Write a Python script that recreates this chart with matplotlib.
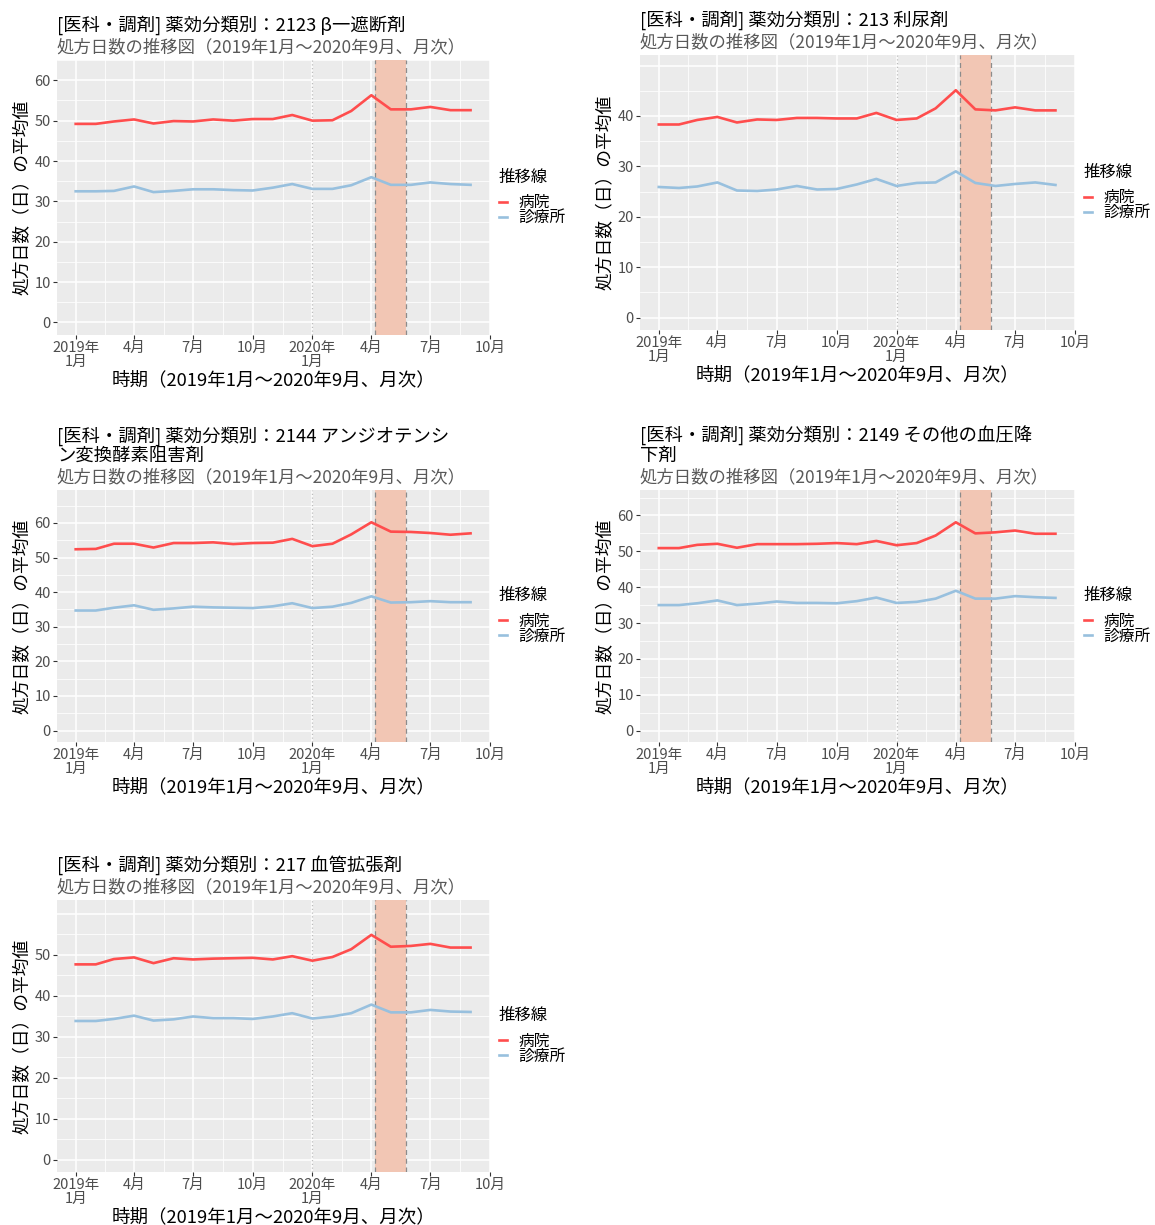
import datetime as dt

import matplotlib
matplotlib.use("Agg")
import matplotlib.pyplot as plt
import matplotlib.dates as mdates

plt.rcParams["font.family"] = ["Noto Sans CJK JP", "DejaVu Sans"]

# ---- data -------------------------------------------------------------
months = [dt.date(2019, m, 1) for m in range(1, 13)] + [dt.date(2020, m, 1) for m in range(1, 10)]

series_names = ["病院", "診療所"]

titles = [
    "[医科・調剤] 薬効分類別：2123 β一遮断剤",
    "[医科・調剤] 薬効分類別：213 利尿剤",
    "[医科・調剤] 薬効分類別：2144 アンジオテンシ\nン変換酵素阻害剤",
    "[医科・調剤] 薬効分類別：2149 その他の血圧降\n下剤",
    "[医科・調剤] 薬効分類別：217 血管拡張剤",
]
subtitle = "処方日数の推移図（2019年1月～2020年9月、月次）"
x_title = "時期（2019年1月～2020年9月、月次）"
y_title = "処方日数（日）の平均値"
legend_title = "推移線"

hospital_2123 = [49.2, 49.2, 49.8, 50.3, 49.3, 49.9, 49.8, 50.3, 50.0, 50.4, 50.4,
                 51.4, 50.0, 50.1, 52.4, 56.3, 52.8, 52.8, 53.4, 52.6, 52.6]
clinic_2123 = [32.5, 32.5, 32.6, 33.7, 32.3, 32.6, 33.0, 33.0, 32.8, 32.7, 33.4,
               34.3, 33.1, 33.1, 34.0, 36.0, 34.1, 34.1, 34.7, 34.3, 34.1]

hospital_213 = [38.3, 38.3, 39.2, 39.8, 38.7, 39.3, 39.2, 39.6, 39.6, 39.5, 39.5,
                40.6, 39.2, 39.5, 41.5, 45.1, 41.3, 41.1, 41.7, 41.1, 41.1]
clinic_213 = [25.9, 25.7, 26.0, 26.8, 25.2, 25.1, 25.4, 26.1, 25.4, 25.5, 26.4,
              27.5, 26.1, 26.7, 26.8, 29.0, 26.7, 26.1, 26.5, 26.8, 26.3]

hospital_2144 = [52.4, 52.5, 54.0, 54.0, 52.9, 54.2, 54.2, 54.4, 53.9, 54.2, 54.3,
                 55.4, 53.3, 54.0, 56.7, 60.2, 57.5, 57.4, 57.1, 56.6, 57.0]
clinic_2144 = [34.7, 34.7, 35.5, 36.2, 34.9, 35.3, 35.8, 35.6, 35.5, 35.4, 35.9,
               36.8, 35.4, 35.8, 36.9, 38.8, 37.0, 37.1, 37.4, 37.1, 37.1]

hospital_2149 = [50.9, 50.9, 51.8, 52.1, 51.0, 52.0, 52.0, 52.0, 52.1, 52.3, 52.0,
                 52.9, 51.7, 52.3, 54.4, 58.1, 55.0, 55.3, 55.8, 54.9, 54.9]
clinic_2149 = [35.0, 35.0, 35.5, 36.3, 35.0, 35.4, 36.0, 35.6, 35.6, 35.5, 36.1,
               37.1, 35.6, 35.9, 36.8, 39.0, 36.8, 36.8, 37.5, 37.2, 37.0]

hospital_217 = [47.6, 47.6, 48.9, 49.3, 47.9, 49.1, 48.8, 49.0, 49.1, 49.2, 48.8,
                49.6, 48.5, 49.4, 51.3, 54.8, 51.9, 52.1, 52.6, 51.7, 51.7]
clinic_217 = [33.8, 33.8, 34.3, 35.1, 33.9, 34.2, 34.9, 34.5, 34.5, 34.3, 34.9,
              35.7, 34.4, 34.9, 35.7, 37.8, 35.9, 35.9, 36.5, 36.1, 36.0]

hospital_series = [hospital_2123, hospital_213, hospital_2144, hospital_2149, hospital_217]
clinic_series = [clinic_2123, clinic_213, clinic_2144, clinic_2149, clinic_217]

y_tick_values = [
    [0, 10, 20, 30, 40, 50, 60],
    [0, 10, 20, 30, 40],
    [0, 10, 20, 30, 40, 50, 60],
    [0, 10, 20, 30, 40, 50, 60],
    [0, 10, 20, 30, 40, 50],
]

x_tick_dates = [dt.date(2019, 1, 1), dt.date(2019, 4, 1), dt.date(2019, 7, 1), dt.date(2019, 10, 1),
                dt.date(2020, 1, 1), dt.date(2020, 4, 1), dt.date(2020, 7, 1), dt.date(2020, 10, 1)]
x_tick_labels = ["2019年\n1月", "4月", "7月", "10月", "2020年\n1月", "4月", "7月", "10月"]

emergency_start = dt.date(2020, 4, 7)
emergency_end = dt.date(2020, 5, 25)
year_break = dt.date(2020, 1, 1)

# ---- style ------------------------------------------------------------
HOSP_COLOR = "#FF4D4D"
CLINIC_COLOR = "#98C0DE"
PANEL_BG = "#EBEBEB"
SHADE = "#F2C6B4"
TICK_GRAY = "#4D4D4D"

W, H = 1155, 1225
fig = plt.figure(figsize=(W / 100, H / 100), dpi=100)
fig.patch.set_facecolor("white")

# panel rectangles in pixels: left, top, right, bottom
panels = [
    (57, 60, 490, 335),
    (640, 55, 1075, 330),
    (57, 490, 490, 742),
    (640, 490, 1075, 742),
    (57, 900, 490, 1172),
]


def px_rect(l, t, r, b):
    return [l / W, 1 - b / H, (r - l) / W, (b - t) / H]


x_left = mdates.date2num(dt.date(2019, 1, 1)) - 31 * 0.93
x_right = mdates.date2num(dt.date(2020, 10, 1))

for i in range(5):
    l, t, r, b = panels[i]
    ax = fig.add_axes(px_rect(l, t, r, b))
    ax.set_facecolor(PANEL_BG)
    for s in ax.spines.values():
        s.set_visible(False)

    hosp = hospital_series[i]
    clin = clinic_series[i]
    top = max(hosp) * 1.1
    ax.set_ylim(-0.05 * top, 1.05 * top)
    ax.set_xlim(x_left, x_right)

    # grid
    yt = y_tick_values[i]
    ax.set_yticks(yt)
    ax.set_yticklabels([str(v) for v in yt])
    ylo, yhi = ax.get_ylim()
    grid_major = [v for v in range(0, 80, 10) if ylo <= v <= yhi]
    grid_minor = [v for v in range(5, 80, 10) if ylo <= v <= yhi]
    for v in grid_major:
        ax.axhline(v, color="white", lw=1.1, zorder=0.5)
    for v in grid_minor:
        ax.axhline(v, color="white", lw=0.55, zorder=0.5)
    xt = [mdates.date2num(d) for d in x_tick_dates]
    for v in xt:
        ax.axvline(v, color="white", lw=1.1, zorder=0.5)
    for j in range(len(xt) - 1):
        ax.axvline((xt[j] + xt[j + 1]) / 2, color="white", lw=0.55, zorder=0.5)

    ax.set_xticks(xt)
    ax.set_xticklabels(x_tick_labels, linespacing=0.95)
    ax.tick_params(axis="both", colors="#333333", length=3, width=0.8,
                   labelcolor=TICK_GRAY, labelsize=10.5)
    ax.tick_params(axis="x", pad=1.5)
    ax.tick_params(axis="y", pad=1.5)

    # emergency period shading and markers
    ax.axvspan(emergency_start, emergency_end, color=SHADE, zorder=1, lw=0)
    ax.axvline(emergency_start, color="#8C8C8C", lw=0.9, ls=(0, (4, 3)), zorder=1.5)
    ax.axvline(emergency_end, color="#8C8C8C", lw=0.9, ls=(0, (4, 3)), zorder=1.5)
    ax.axvline(year_break, color="#BDBDBD", lw=0.9, ls=(0, (1, 2)), zorder=1.5)

    ax.plot(months, hosp, color=HOSP_COLOR, lw=1.9, zorder=3, label=series_names[0])
    ax.plot(months, clin, color=CLINIC_COLOR, lw=1.9, zorder=3, label=series_names[1])

    ax.set_xlabel(x_title, fontsize=13.3, color="black", labelpad=2)
    ax.set_ylabel(y_title, fontsize=12.8, color="black", labelpad=2)

    # titles
    sub_y = t - 13
    fig.text(l / W, 1 - sub_y / H, subtitle, fontsize=12.5, color="#595959",
             ha="left", va="center")
    fig.text(l / W, 1 - (sub_y - 12) / H, titles[i], fontsize=13.2, color="black",
             ha="left", va="bottom", linespacing=1.05)

    # legend
    leg = ax.legend(loc="center left", bbox_to_anchor=(1.02, 0.5), frameon=False,
                    title=legend_title, fontsize=11.3, title_fontsize=11.8,
                    handlelength=0.55, handletextpad=0.7, labelspacing=-0.12,
                    borderaxespad=0.0, borderpad=0.0, alignment="left")
    leg._legend_box.sep = 6
    for line in leg.get_lines():
        line.set_linewidth(1.9)

fig.savefig("out.png", dpi=100, facecolor="white")
